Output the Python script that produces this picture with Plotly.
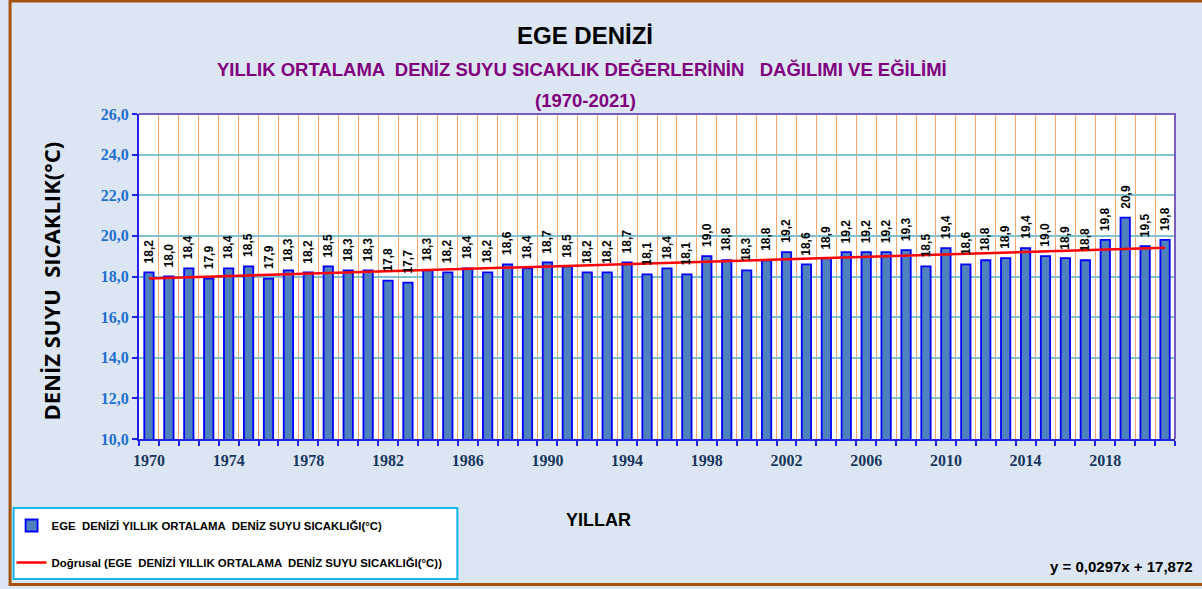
import numpy as np
import plotly.graph_objects as go

years = list(range(1970, 2022))
temps = [18.2, 18.0, 18.4, 17.9, 18.4, 18.5, 17.9, 18.3, 18.2, 18.5,
         18.3, 18.3, 17.8, 17.7, 18.3, 18.2, 18.4, 18.2, 18.6, 18.4,
         18.7, 18.5, 18.2, 18.2, 18.7, 18.1, 18.4, 18.1, 19.0, 18.8,
         18.3, 18.8, 19.2, 18.6, 18.9, 19.2, 19.2, 19.2, 19.3, 18.5,
         19.4, 18.6, 18.8, 18.9, 19.4, 19.0, 18.9, 18.8, 19.8, 20.9,
         19.5, 19.8]
cats = [str(y) for y in years]
tick_text = [str(y) if (y - 1970) % 4 == 0 else "" for y in years]
value_labels = [f"{v:.1f}".replace(".", ",") for v in temps]

# linear trend (Excel-style, x = 1..n)
idx = np.arange(1, len(temps) + 1)
slope, intercept = np.polyfit(idx, temps, 1)
trend = slope * idx + intercept

W, H = 1202, 589
L, R, T, B = 138.5, 1175, 114, 439
pw, ph = R - L, B - T


def px(x):
    return (x - L) / pw


def py(y):
    return (B - y) / ph


SANS = "Liberation Sans, Arial"
SERIF = "Liberation Serif, Times New Roman, serif"

fig = go.Figure()
fig.add_trace(go.Bar(
    x=cats, y=temps,
    name="EGE  DENİZİ YILLIK ORTALAMA  DENİZ SUYU SICAKLIĞI(°C)",
    marker=dict(color="#4f81bd", line=dict(color="#0000ff", width=1.8)),
    legendgroup="a",
))
fig.add_trace(go.Scatter(
    x=cats, y=trend, mode="lines",
    name="Doğrusal (EGE  DENİZİ YILLIK ORTALAMA  DENİZ SUYU SICAKLIĞI(°C))",
    line=dict(color="#ff0000", width=2.5),
    legendgroup="b",
))

fig.update_layout(
    width=W, height=H,
    margin=dict(l=L, r=W - R, t=T, b=H - B, pad=0, autoexpand=False),
    paper_bgcolor="#dce6f2", plot_bgcolor="white",
    separators=",.",
    bargap=0.53,
    showlegend=True,
    legend=dict(
        x=px(11), y=py(511), xanchor="left", yanchor="top",
        bgcolor="rgba(0,0,0,0)", borderwidth=0,
        traceorder="grouped", tracegroupgap=18,
        font=dict(family=SANS, size=11.4, color="black", weight="bold"),
        itemwidth=30,
    ),
    xaxis=dict(
        type="category", tickson="boundaries",
        tickvals=cats, ticktext=tick_text, tickangle=0,
        showgrid=True, gridcolor="#f9a66a", gridwidth=1,
        showline=True, linecolor="#2020f0", linewidth=2,
        ticks="outside", ticklen=5, tickcolor="#2020f0", tickwidth=1.5,
        ticklabelstandoff=6,
        tickfont=dict(family=SERIF, size=16, color="#17375e", weight="bold"),
        range=[-0.5, len(cats) - 0.5],
    ),
    yaxis=dict(
        range=[10, 26], dtick=2, tick0=10, tickformat=".1f",
        showgrid=True, gridcolor="#7fc3d3", gridwidth=1.5,
        showline=True, linecolor="#2020f0", linewidth=2,
        ticks="outside", ticklen=5, tickcolor="#2020f0", tickwidth=1.5,
        tickfont=dict(family=SERIF, size=16, color="#1f6fd0", weight="bold"),
        zeroline=False,
    ),
)

fx0, fy0, fy1 = px(9.5), py(1), py(584.5)
shapes = [
    dict(type="path", xref="paper", yref="paper", path="M 0,1 L 1,1 L 1,0",
         line=dict(color="#7a5cc0", width=2), layer="above"),
    # outer frame: left, top, bottom edges
    dict(type="path", xref="paper", yref="paper",
         path=f"M {px(1260)},{fy0} L {fx0},{fy0} L {fx0},{fy1} L {px(1260)},{fy1}",
         line=dict(color="#a5520f", width=3), layer="below"),
    dict(type="rect", xref="paper", yref="paper",
         x0=px(13), x1=px(457), y0=py(508), y1=py(579),
         line=dict(color="#17b4ea", width=2), fillcolor="white", layer="below"),
]
fig.update_layout(shapes=shapes)

annotations = [
    dict(text="EGE DENİZİ", x=px(585), y=py(35),
         font=dict(family=SANS, size=24, color="black", weight="bold")),
    dict(text="YILLIK ORTALAMA  DENİZ SUYU SICAKLIK DEĞERLERİNİN   DAĞILIMI VE EĞİLİMİ",
         x=px(582), y=py(69),
         font=dict(family=SANS, size=18.5, color="#800080", weight="bold")),
    dict(text="(1970-2021)", x=px(585), y=py(100),
         font=dict(family=SANS, size=18.5, color="#800080", weight="bold")),
    dict(text="DENİZ SUYU  SICAKLIK(°C)", x=px(50), y=py(281), textangle=-90,
         font=dict(family="Open Sans, Liberation Sans, Arial", size=22, color="black", weight="bold")),
    dict(text="YILLAR", x=px(598), y=py(520),
         font=dict(family=SANS, size=18, color="black", weight="bold")),
    dict(text="y = 0,0297x + 17,872", x=px(1195), y=py(566), xanchor="right",
         font=dict(family=SANS, size=15, color="black", weight="bold")),
]
for a in annotations:
    a.setdefault("xref", "paper")
    a.setdefault("yref", "paper")
    a.setdefault("showarrow", False)
    a.setdefault("xanchor", "center")
    a.setdefault("yanchor", "middle")

# value labels above bars (x = category index on the category axis)
for i, (v, lab) in enumerate(zip(temps, value_labels)):
    annotations.append(dict(
        text=lab, x=i, y=v, xref="x", yref="y", showarrow=False,
        textangle=-90, xanchor="center", yanchor="bottom", yshift=7,
        font=dict(family=SANS, size=12, color="black", weight="bold"),
    ))
fig.update_layout(annotations=annotations)

fig.write_html("out.html", config={"displayModeBar": False},
               post_script="document.body.style.margin='0';")
